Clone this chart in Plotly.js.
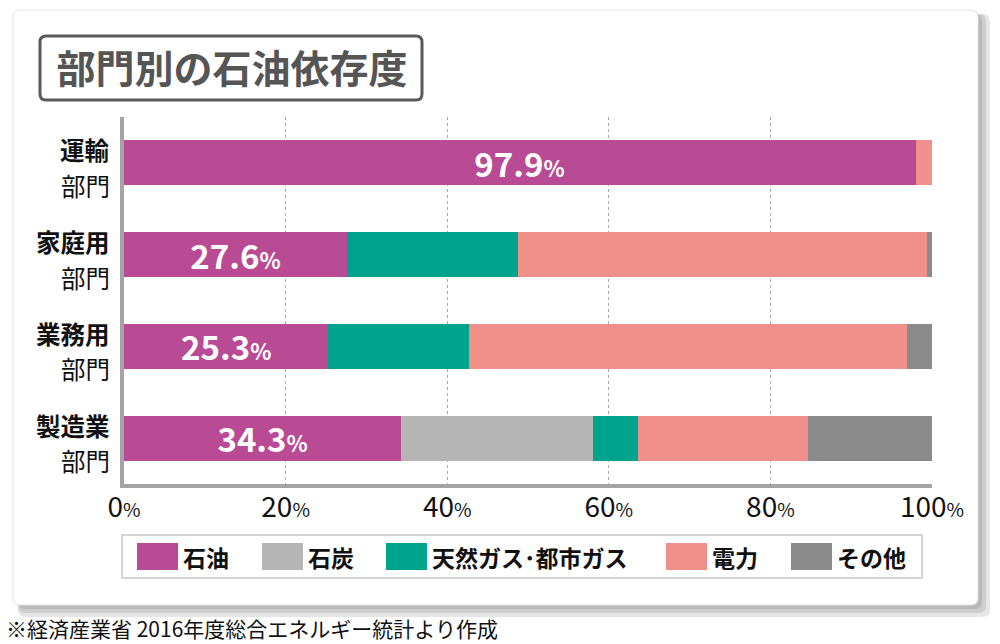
<!DOCTYPE html>
<html>
<head>
<meta charset="utf-8">
<script src="https://cdn.plot.ly/plotly-3.0.1.min.js"></script>
<style>
html,body{margin:0;padding:0;background:#fff;}
#chart{width:1000px;height:644px;}
</style>
</head>
<body>
<div id="chart"></div>
<script>
// ---- data ----
var sectors = ["運輸部門", "家庭用部門", "業務用部門", "製造業部門"];
var sectorTop = ["運輸", "家庭用", "業務用", "製造業"];
var sectorBottom = ["部門", "部門", "部門", "部門"];
var seriesNames = ["石油", "石炭", "天然ガス･都市ガス", "電力", "その他"];
var oil = [97.9, 27.6, 25.3, 34.3];
var coal = [0, 0, 0, 23.7];
var gas = [0.1, 21.2, 17.4, 5.6];
var power = [2.0, 50.6, 54.2, 21.1];
var other = [0, 0.6, 3.1, 15.3];
var xTickVals = [0, 20, 40, 60, 80, 100];
var titleText = "部門別の石油依存度";
var sourceText = "※経済産業省 2016年度総合エネルギー統計より作成";

// ---- style ----
var colors = ["#b94a94", "#b4b5b4", "#00a38b", "#ef908a", "#8a8a8a"];
var FONT = "'Noto Sans CJK JP', 'Noto Sans', sans-serif";
var W = 1000, H = 644;
var M = {l: 124, r: 68, t: 117, b: 160};
var PW = W - M.l - M.r, PH = H - M.t - M.b;
function px(x) { return (x - M.l) / PW; }
function py(y) { return (H - M.b - y) / PH; }
function rrect(x0, y0, x1, y1, r) {
  var X = function (v) { return px(v).toFixed(5); };
  var Y = function (v) { return py(v).toFixed(5); };
  return "M" + X(x0 + r) + "," + Y(y0) +
    " L" + X(x1 - r) + "," + Y(y0) +
    " Q" + X(x1) + "," + Y(y0) + " " + X(x1) + "," + Y(y0 + r) +
    " L" + X(x1) + "," + Y(y1 - r) +
    " Q" + X(x1) + "," + Y(y1) + " " + X(x1 - r) + "," + Y(y1) +
    " L" + X(x0 + r) + "," + Y(y1) +
    " Q" + X(x0) + "," + Y(y1) + " " + X(x0) + "," + Y(y1 - r) +
    " L" + X(x0) + "," + Y(y0 + r) +
    " Q" + X(x0) + "," + Y(y0) + " " + X(x0 + r) + "," + Y(y0) + " Z";
}

var seriesValues = [oil, coal, gas, power, other];
var traces = seriesValues.map(function (vals, i) {
  var t = {
    type: "bar", orientation: "h",
    y: sectors, x: vals, name: seriesNames[i],
    marker: {color: colors[i], line: {width: 0}},
    showlegend: false, hoverinfo: "skip"
  };
  if (i === 0) {
    t.text = vals.map(function (v) {
      return "<b>" + v.toFixed(1) + "<span style='font-size:22px'>%</span></b>";
    });
    t.textposition = "inside";
    t.insidetextanchor = "middle";
    t.textangle = 0;
    t.constraintext = "none";
    t.textfont = {family: FONT, size: 33, color: "#ffffff"};
  } else {
    t.textposition = "none";
  }
  return t;
});

var shapes = [];
// card shadow
[12, 8, 4].forEach(function (d) {
  shapes.push({type: "path", xref: "paper", yref: "paper", layer: "below",
    path: rrect(18, 14, 978 + d, 605 + d, 8),
    fillcolor: "rgba(0,0,0,0.10)", line: {width: 0}});
});
// card
shapes.push({type: "path", xref: "paper", yref: "paper", layer: "below",
  path: rrect(13, 10, 978, 605, 7), fillcolor: "#ffffff",
  line: {color: "#e4e4e4", width: 1}});
// title box
shapes.push({type: "path", xref: "paper", yref: "paper", layer: "below",
  path: rrect(40, 36, 422, 100, 6), fillcolor: "#ffffff",
  line: {color: "#595959", width: 3}});
// legend box
shapes.push({type: "rect", xref: "paper", yref: "paper", layer: "below",
  x0: px(122), x1: px(922), y0: py(535), y1: py(578),
  fillcolor: "#ffffff", line: {color: "#c8c8c8", width: 1.5}});

var legendX = [137, 262, 386, 666, 791];
var annotations = [];
seriesNames.forEach(function (n, i) {
  shapes.push({type: "rect", xref: "paper", yref: "paper", layer: "above",
    x0: px(legendX[i]), x1: px(legendX[i] + 41), y0: py(543), y1: py(570),
    fillcolor: colors[i], line: {width: 0}});
  annotations.push({xref: "paper", yref: "paper", x: px(legendX[i] + 44), y: py(557),
    xanchor: "left", yanchor: "middle", showarrow: false,
    text: "<b>" + n + "</b>", font: {family: FONT, size: 23, color: "#111111"}});
});
// two-line category labels, placed on the category axis
sectors.forEach(function (s, i) {
  annotations.push({xref: "paper", yref: "y", x: px(112), y: s,
    xanchor: "right", yanchor: "middle", yshift: 13, showarrow: false,
    text: "<b>" + sectorTop[i] + "</b>", font: {family: FONT, size: 24.5, color: "#111111"}});
  annotations.push({xref: "paper", yref: "y", x: px(112), y: s,
    xanchor: "right", yanchor: "middle", yshift: -22.5, showarrow: false,
    text: sectorBottom[i], font: {family: FONT, size: 24.5, color: "#111111"}});
});
annotations.push({xref: "paper", yref: "paper", x: px(4), y: py(628),
  xanchor: "left", yanchor: "middle", showarrow: false,
  text: sourceText, font: {family: FONT, size: 21, color: "#111111"}});

var layout = {
  width: W, height: H,
  margin: M,
  paper_bgcolor: "#ffffff",
  plot_bgcolor: "rgba(0,0,0,0)",
  barmode: "stack",
  bargap: 0.51,
  title: {text: "<b>" + titleText + "</b>", xref: "container", yref: "container",
    x: 232 / W, y: 1 - 69 / H, xanchor: "center", yanchor: "middle",
    font: {family: FONT, size: 39, color: "#555555"}},
  xaxis: {
    range: [0, 100], tickvals: xTickVals,
    ticktext: xTickVals.map(function (v) { return v + "<span style='font-size:19px'>%</span>"; }),
    showgrid: true, gridcolor: "#a8a8a8", griddash: "dot", gridwidth: 1,
    zeroline: false, showline: true, linecolor: "#a4a4a4", linewidth: 4,
    ticks: "", ticklabelstandoff: -5,
    tickfont: {family: FONT, size: 28, color: "#111111"}, fixedrange: true
  },
  yaxis: {
    autorange: "reversed",
    tickvals: sectors,
    showticklabels: false,
    showgrid: false, zeroline: false, showline: true, linecolor: "#a4a4a4", linewidth: 4,
    ticks: "", fixedrange: true
  },
  shapes: shapes,
  annotations: annotations,
  hovermode: false
};

Plotly.newPlot("chart", traces, layout, {staticPlot: true, displayModeBar: false});
</script>
</body>
</html>
